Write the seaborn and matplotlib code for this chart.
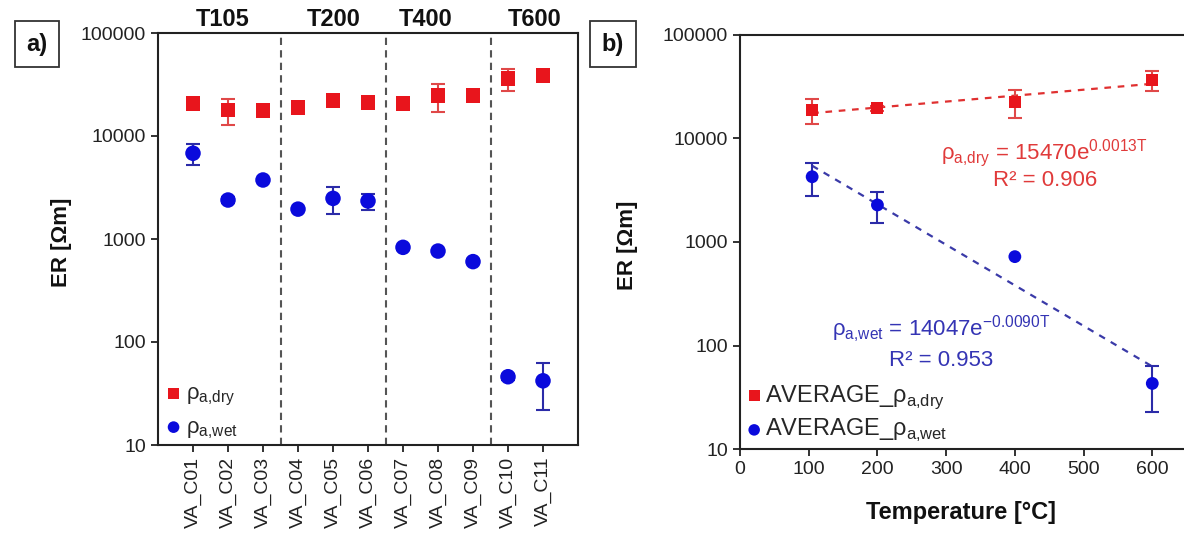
import numpy as np
import pandas as pd
import matplotlib
matplotlib.use("Agg")
import matplotlib.pyplot as plt
import matplotlib.transforms as mtransforms
from matplotlib.ticker import FixedLocator, FuncFormatter, NullLocator
import seaborn as sns

# ---------------- data ----------------
samples = ["VA_C01", "VA_C02", "VA_C03", "VA_C04", "VA_C05", "VA_C06",
           "VA_C07", "VA_C08", "VA_C09", "VA_C10", "VA_C11"]
dry = [20800, 17900, 17600, 19000, 22000, 21200, 20800, 24600, 24600, 36000, 38500]
dry_err = [800, 5000, 1000, 900, 1000, 800, 700, 7600, 1000, 8500, 3000]
wet = [6800, 2390, 3740, 1950, 2480, 2340, 830, 764, 603, 46, 42]
wet_err = [1600, 150, 200, 100, 750, 420, 40, 40, 30, 3, 20]
groups = ["T105", "T200", "T400", "T600"]

temps = [105, 200, 400, 600]
avg_dry = [18800, 19600, 22700, 36700]
avg_dry_err = [5100, 1200, 6800, 7700]
avg_wet = [4270, 2280, 722, 43]
avg_wet_err = [1500, 740, np.nan, 20]

eq_dry = ["ρ$_\\mathregular{a{,}dry}$ = 15470e$^\\mathregular{0.0013T}$", "R² = 0.906"]
eq_wet = ["ρ$_\\mathregular{a{,}wet}$ = 14047e$^\\mathregular{-0.0090T}$", "R² = 0.953"]

# ---------------- style ----------------
sns.set_theme(style="ticks")
plt.rcParams["font.family"] = ["Liberation Sans", "DejaVu Sans"]
plt.rcParams["axes.unicode_minus"] = False

RED = "#E8151C"
RED_E = "#E04848"
BLUE = "#0A0ADC"
BLUE_E = "#2B2BA8"
TXT_RED = "#E03A3A"
TXT_BLUE = "#3434B4"

fig = plt.figure(figsize=(11.84, 5.38), dpi=100)
ax1 = fig.add_axes([158 / 1184, 1 - 445 / 538, 420 / 1184, 412 / 538])
ax2 = fig.add_axes([740 / 1184, 1 - 449 / 538, 481 / 1184, 414 / 538])


def style_axes(ax):
    ax.set_yscale("log")
    ax.set_ylim(10, 100000)
    ax.yaxis.set_major_locator(FixedLocator([10, 100, 1000, 10000, 100000]))
    ax.yaxis.set_major_formatter(FuncFormatter(lambda v, p: f"{int(round(v))}"))
    ax.yaxis.set_minor_locator(NullLocator())
    for s in ax.spines.values():
        s.set_visible(True)
        s.set_linewidth(1.5)
        s.set_color("#222222")
    ax.tick_params(axis="both", direction="out", length=5, width=1.3,
                   labelsize=14, colors="#222222", labelcolor="#222222")
    ax.grid(False)
    ax.set_facecolor("white")


# ---------------- panel a ----------------
df_a = pd.DataFrame({"sample": samples, "dry": dry, "wet": wet})
ax1.errorbar(samples, dry, yerr=dry_err, fmt="none", ecolor=RED_E,
             elinewidth=1.5, capsize=5, capthick=1.5, zorder=2)
ax1.errorbar(samples, wet, yerr=wet_err, fmt="none", ecolor=BLUE_E,
             elinewidth=1.5, capsize=5, capthick=1.5, zorder=2)
sns.scatterplot(data=df_a, x="sample", y="dry", marker="s", color=RED, s=115,
                edgecolor="none", ax=ax1, label="ρ$_\\mathregular{a{,}dry}$", zorder=3)
sns.scatterplot(data=df_a, x="sample", y="wet", marker="o", color=BLUE, s=125,
                edgecolor="none", ax=ax1, label="ρ$_\\mathregular{a{,}wet}$", zorder=3)
style_axes(ax1)
ax1.set_xlim(-1, 11)
ax1.set_xticks(range(len(samples)))
ax1.set_xticklabels(samples, rotation=90)
ax1.set_xlabel("")
ax1.set_ylabel("")
for xv in [2.5, 5.5, 8.5]:
    ax1.axvline(xv, color="#555555", lw=1.5, ls=(0, (3.5, 2.5)), zorder=1)

trans = mtransforms.blended_transform_factory(ax1.transData, ax1.transAxes)
for gx, g in zip([0.85, 4.03, 6.65, 9.75], groups):
    ax1.text(gx, 1.018, g, transform=trans, ha="center", va="baseline",
             fontsize=17, fontweight="bold", color="#111111")

ax1.legend(loc="lower left", frameon=False, fontsize=16, handletextpad=0.05,
           borderaxespad=0.0, labelspacing=0.4, markerscale=0.75,
           borderpad=0.2, handlelength=1.0)

# ---------------- panel b ----------------
T = np.array(temps, dtype=float)
c_dry = np.polyfit(T, np.log(avg_dry), 1)
c_wet = np.polyfit(T, np.log(avg_wet), 1)
t_line = np.linspace(105, 600, 60)
sns.lineplot(x=t_line, y=np.exp(np.polyval(c_dry, t_line)), color="#E03030",
             lw=1.6, ls=(0, (3, 3)), ax=ax2, zorder=1)
sns.lineplot(x=t_line, y=np.exp(np.polyval(c_wet, t_line)), color="#3A3AA8",
             lw=1.6, ls=(0, (3, 3)), ax=ax2, zorder=1)
ax2.errorbar(temps, avg_dry, yerr=avg_dry_err, fmt="none", ecolor=RED_E,
             elinewidth=1.5, capsize=5, capthick=1.5, zorder=2)
ax2.errorbar(temps, avg_wet, yerr=avg_wet_err, fmt="none", ecolor=BLUE_E,
             elinewidth=1.5, capsize=5, capthick=1.5, zorder=2)
df_b = pd.DataFrame({"T": temps, "dry": avg_dry, "wet": avg_wet})
sns.scatterplot(data=df_b, x="T", y="dry", marker="s", color=RED, s=75,
                edgecolor="none", ax=ax2, label="AVERAGE_ρ$_\\mathregular{a{,}dry}$", zorder=3)
sns.scatterplot(data=df_b, x="T", y="wet", marker="o", color=BLUE, s=85,
                edgecolor="none", ax=ax2, label="AVERAGE_ρ$_\\mathregular{a{,}wet}$", zorder=3)
style_axes(ax2)
ax2.set_xlim(0, 700)
ax2.set_xticks([0, 100, 200, 300, 400, 500, 600])
ax2.set_xlabel("")
ax2.set_ylabel("")

ax2.text(443, 7300, eq_dry[0], ha="center", va="center", fontsize=16, color=TXT_RED)
ax2.text(444, 3900, eq_dry[1], ha="center", va="center", fontsize=16, color=TXT_RED)
ax2.text(293, 142, eq_wet[0], ha="center", va="center", fontsize=16, color=TXT_BLUE)
ax2.text(292, 72, eq_wet[1], ha="center", va="center", fontsize=16, color=TXT_BLUE)

handles, labels = ax2.get_legend_handles_labels()
keep = [(h, l) for h, l in zip(handles, labels) if l.startswith("AVERAGE")]
ax2.legend([k[0] for k in keep], [k[1] for k in keep], loc="lower left", frameon=False,
           fontsize=17, handletextpad=0.05, borderaxespad=0.0, labelspacing=0.25,
           markerscale=0.9, borderpad=0.2, handlelength=0.8)

# ---------------- figure texts ----------------
bbox = dict(boxstyle="square,pad=0.5", fc="white", ec="#333333", lw=1.3)
fig.text(37 / 1184, 1 - 44 / 538, "a)", ha="center", va="center", fontsize=17,
         fontweight="bold", bbox=bbox, color="#111111")
fig.text(613 / 1184, 1 - 44 / 538, "b)", ha="center", va="center", fontsize=17,
         fontweight="bold", bbox=bbox, color="#111111")
fig.text(62 / 1184, 1 - 242 / 538, "ER [Ωm]", rotation=90, ha="center", va="center",
         fontsize=16, fontweight="bold", color="#111111")
fig.text(628 / 1184, 1 - 245 / 538, "ER [Ωm]", rotation=90, ha="center", va="center",
         fontsize=16, fontweight="bold", color="#111111")
fig.text(961 / 1184, 1 - 513 / 538, "Temperature [°C]", ha="center", va="center",
         fontsize=17, fontweight="bold", color="#111111")

fig.savefig("out.png", dpi=100, facecolor="white")
